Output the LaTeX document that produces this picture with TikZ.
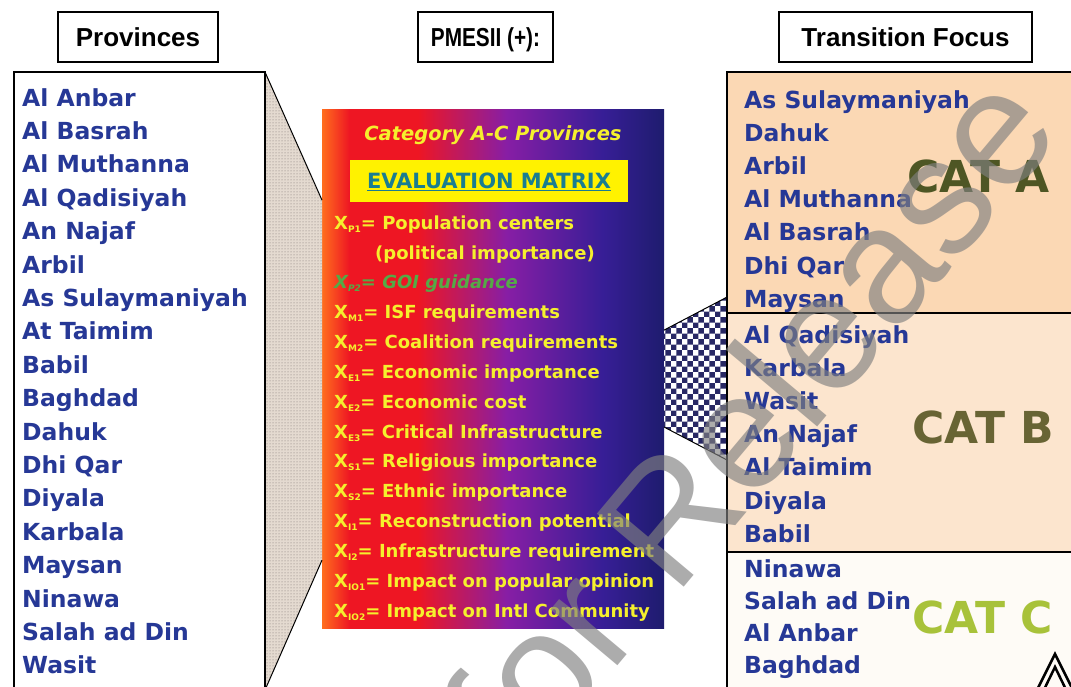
\documentclass[tikz,border=0pt]{standalone}
\usepackage{graphicx}
\usepackage{fontspec}
\newfontfamily\dejavu{DejaVu Sans}
\newfontfamily\arialfam{Liberation Sans}
\usetikzlibrary{calc,patterns}

\definecolor{provblue}{RGB}{38,56,150}
\definecolor{evalyellow}{RGB}{245,240,45}
\definecolor{goigreen}{RGB}{85,170,70}
\definecolor{evalteal}{RGB}{25,125,145}
\definecolor{catAfill}{RGB}{251,216,180}
\definecolor{catBfill}{RGB}{252,229,206}
\definecolor{catCfill}{RGB}{254,251,246}
\definecolor{catAtext}{RGB}{78,86,36}
\definecolor{catBtext}{RGB}{104,100,52}
\definecolor{catCtext}{RGB}{168,194,58}
\definecolor{dotbg}{RGB}{228,218,208}
\definecolor{dotfg}{RGB}{120,110,110}
\definecolor{hatchnavy}{RGB}{40,40,100}
\definecolor{shOrange}{RGB}{255,110,30}
\definecolor{shRed}{RGB}{238,22,35}
\definecolor{shPurple}{RGB}{135,30,165}
\definecolor{shBlue}{RGB}{55,30,150}
\definecolor{shNavy}{RGB}{30,28,110}

\pgfdeclarehorizontalshading{evalshade}{100bp}{color(0bp)=(shOrange); color(25bp)=(shOrange);
  color(29bp)=(shRed); color(39bp)=(shRed); color(52bp)=(shPurple); color(66bp)=(shBlue);
  color(75bp)=(shNavy); color(100bp)=(shNavy)}

\newcommand{\xsub}[1]{X\raisebox{-3pt}{\fontsize{9}{9}\selectfont #1}}

\begin{document}
\begin{tikzpicture}[x=1pt, y=-1pt]
    \tikzset{headbox/.style={draw=black, line width=2.5pt, inner sep=0pt, minimum height=50pt,
                text height=19pt, text depth=0pt, font=\arialfam\bfseries\fontsize{26}{30}\selectfont},
             framebox/.style={draw=black, line width=1.8pt, anchor=north west, inner sep=0pt, outer sep=0pt},
             namelist/.style={anchor=north west, inner sep=0pt, align=left, text=provblue,
                font=\dejavu\bfseries\fontsize{23.5}{#1}\selectfont},
             namelist/.default=33.2,
             catlabel/.style={anchor=base west, inner sep=0pt, font=\dejavu\bfseries\fontsize{44}{50}\selectfont},
             evaltext/.style={anchor=north west, inner sep=0pt, align=left, text=evalyellow,
                font=\dejavu\bfseries\fontsize{18}{29.85}\selectfont},
             callfill/.style={preaction={fill=#1}},
             calledge/.style={draw=black, line width=1pt}}

    \useasboundingbox (0,0) rectangle (1071,687);
    \fill[white] (0,0) rectangle (1071,687);
    \clip (0,0) rectangle (1071,687);

    \node[headbox, minimum width=160pt] (provhead) at (138,37) {Provinces};
    \node[headbox, minimum width=135pt] (pmhead) at (485.5,37) {\scalebox{0.8}[1]{PMESII (+):}};
    \node[headbox, minimum width=253pt] (trhead) at (905.5,37) {Transition Focus};

    % provinces
    \node[framebox, fill=white, minimum width=251pt, minimum height=618pt] (provbox) at (14,72) {};
    \node[namelist=33.4] (provlist) at (22,88) {Al Anbar\\Al Basrah\\Al Muthanna\\Al Qadisiyah\\An Najaf\\Arbil\\
        As Sulaymaniyah\\At Taimim\\Babil\\Baghdad\\Dahuk\\Dhi Qar\\Diyala\\Karbala\\Maysan\\Ninawa\\Salah ad Din\\Wasit};

    % evaluation matrix
    \node[anchor=north west, inner sep=0pt, outer sep=0pt, minimum width=342pt, minimum height=518pt,
          shade, shading=evalshade] (evalbox) at (322,110) {};
    \node[anchor=base, inner sep=0pt, text=evalyellow,
          font=\dejavu\bfseries\itshape\fontsize{19.5}{22}\selectfont] (evalcat) at (493,141) {Category A-C Provinces};
    \node[fill=yellow, minimum width=278pt, minimum height=42pt, inner sep=0pt, text=evalteal,
          text height=15.3pt, text depth=0pt, font=\dejavu\bfseries\fontsize{21}{24}\selectfont]
          (evalhead) at (489,181) {\underline{EVALUATION MATRIX}};
    \node[evaltext] (evlist) at (334,215.3) {\xsub{P1}= Population centers\\
        \hspace*{41pt}(political importance)\\
        {\color{goigreen}\itshape\xsub{P2}= GOI guidance}\\
        \xsub{M1}= ISF requirements\\
        \xsub{M2}= Coalition requirements\\
        \xsub{E1}= Economic importance\\
        \xsub{E2}= Economic cost\\
        \xsub{E3}= Critical Infrastructure\\
        \xsub{S1}= Religious importance\\
        \xsub{S2}= Ethnic importance\\
        \xsub{I1}= Reconstruction potential\\
        \xsub{I2}= Infrastructure requirement\\
        \xsub{IO1}= Impact on popular opinion\\
        \xsub{IO2}= Impact on Intl Community};

    % transition focus
    \node[framebox, fill=catAfill, minimum width=360pt, minimum height=241pt] (catA) at (727,72) {};
    \node[framebox, fill=catBfill, minimum width=360pt, minimum height=239pt] (catB) at (727,313) {};
    \node[framebox, fill=catCfill, minimum width=360pt, minimum height=140pt] (catC) at (727,552) {};

    \node[namelist] (listA) at (744,90) {As Sulaymaniyah\\Dahuk\\Arbil\\Al Muthanna\\Al Basrah\\Dhi Qar\\Maysan};
    \node[namelist] (listB) at (744,325) {Al Qadisiyah\\Karbala\\Wasit\\An Najaf\\Al Taimim\\Diyala\\Babil};
    \node[namelist=32] (listC) at (744,559) {Ninawa\\Salah ad Din\\Al Anbar\\Baghdad};

    \node[catlabel, text=catAtext] (labA) at (907,193) {CAT A};
    \node[catlabel, text=catBtext] (labB) at (912,443) {CAT B};
    \node[catlabel, text=catCtext] (labC) at (912,633) {CAT C};

    % callouts
    \coordinate (lt) at ($(evalbox.north west)!0.174!(evalbox.south west)$);
    \coordinate (lb) at ($(evalbox.north west)!0.869!(evalbox.south west)$);
    \coordinate (rt) at ($(evalbox.north east)!0.425!(evalbox.south east)$);
    \coordinate (rb) at ($(evalbox.north east)!0.612!(evalbox.south east)$);
    \coordinate (tt) at ($(catA.north west)!0.934!(catA.south west)$);
    \coordinate (tb) at ($(catB.north west)!0.615!(catB.south west)$);

    \path[callfill=dotbg, pattern=dots, pattern color=dotfg] (provbox.north east) -- (lt) -- (lb) -- (provbox.south east) -- cycle;
    \draw[calledge] (provbox.north east) -- (lt) (lb) -- (provbox.south east);
    \draw[line width=1.8pt] (provbox.north east) -- (provbox.south east);

    \path[callfill=white, pattern=checkerboard, pattern color=hatchnavy] (rt) -- (tt) -- (tb) -- (rb) -- cycle;
    \draw[calledge] (rt) -- (tt) (tb) -- (rb);
    \draw[line width=1.8pt] (catA.north west) -- (catC.south west);

    \draw[line width=2.5pt] (1036,692) -- (1055,654) -- (1074,692);
    \draw[line width=2.5pt] (1038,702) -- (1055,667) -- (1072,702);

    \node[anchor=base west, rotate=50, inner sep=0pt, text=black!50, text opacity=0.65,
          font=\arialfam\fontsize{165}{170}\selectfont] (mark) at (522,780) {for Release};
\end{tikzpicture}
\end{document}
